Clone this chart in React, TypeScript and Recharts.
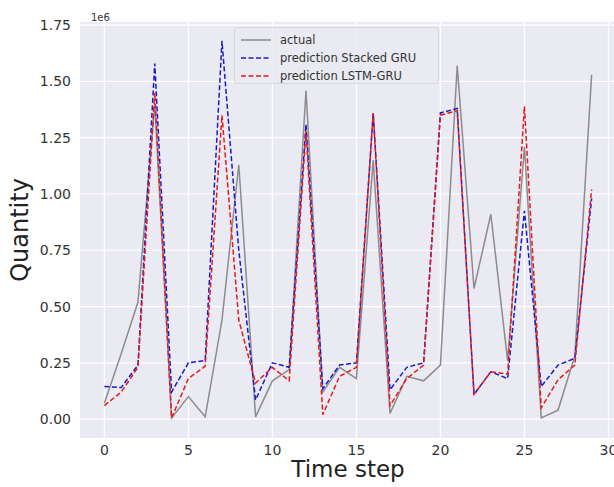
import { LineChart, Line, XAxis, YAxis, CartesianGrid, Legend, Label } from 'recharts';

// quantities in units of 1e6 (matches the axis offset label)
const steps = Array.from({ length: 30 }, (_, i) => i);
const actual = [0.07, 0.29, 0.52, 1.4, 0.005, 0.1, 0.01, 0.44, 1.13, 0.01, 0.17, 0.22, 1.46, 0.12, 0.23, 0.18, 1.15, 0.025, 0.19, 0.17, 0.24, 1.57, 0.58, 0.91, 0.26, 1.21, 0.005, 0.04, 0.28, 1.53];
const stackedGru = [0.145, 0.14, 0.24, 1.58, 0.12, 0.25, 0.26, 1.68, 0.75, 0.085, 0.25, 0.23, 1.31, 0.135, 0.24, 0.25, 1.36, 0.13, 0.23, 0.25, 1.36, 1.38, 0.11, 0.21, 0.18, 0.925, 0.145, 0.24, 0.27, 0.98];
const lstmGru = [0.06, 0.12, 0.23, 1.45, 0.005, 0.18, 0.235, 1.35, 0.44, 0.16, 0.23, 0.17, 1.28, 0.02, 0.19, 0.23, 1.36, 0.06, 0.18, 0.24, 1.35, 1.37, 0.11, 0.21, 0.2, 1.39, 0.05, 0.175, 0.24, 1.02];
const xTicks = [0, 5, 10, 15, 20, 25, 30];
const yTicks = [0, 0.25, 0.5, 0.75, 1.0, 1.25, 1.5, 1.75];

const series = [
  { key: 'actual', name: 'actual', color: '#8c8c8c', dash: undefined },
  { key: 'stacked', name: 'prediction Stacked GRU', color: '#1a1acc', dash: '5 2.5' },
  { key: 'lstm', name: 'prediction LSTM-GRU', color: '#e8191e', dash: '5 2.5' },
];

const data = steps.map((t, i) => ({ t, actual: actual[i], stacked: stackedGru[i], lstm: lstmGru[i] }));

const font = '"DejaVu Sans", sans-serif';

const LegendBox = () => (
  <div
    style={{
      position: 'absolute',
      left: 234,
      top: 27,
      width: 205,
      height: 57,
      background: 'rgba(234,234,242,0.85)',
      border: '1px solid #d6d6de',
      borderRadius: 4,
      boxSizing: 'border-box',
      padding: '3px 0 0 6px',
      fontFamily: font,
      fontSize: 11.5,
      color: '#333',
    }}
  >
    {series.map((s) => (
      <div key={s.key} style={{ display: 'flex', alignItems: 'center', height: 18 }}>
        <svg width={30} height={6} style={{ marginRight: 9 }}>
          <line x1={0} y1={3} x2={30} y2={3} stroke={s.color} strokeWidth={1.5} strokeDasharray={s.dash} />
        </svg>
        <span>{s.name}</span>
      </div>
    ))}
  </div>
);

export default function App() {
  return (
    <div style={{ position: 'absolute', left: 0, top: 0, width: 614, height: 487, overflow: 'hidden', background: '#fff' }}>
      <div style={{ position: 'absolute', left: 91, top: 12, fontFamily: font, fontSize: 10, color: '#333' }}>1e6</div>
      <LineChart width={624} height={487} data={data} margin={{ top: 22, right: 8, bottom: 23, left: 0 }}>
        <CartesianGrid fill="#eaeaf2" stroke="#ffffff" strokeWidth={1.2} horizontalValues={yTicks} verticalValues={xTicks} />
        <XAxis
          dataKey="t"
          type="number"
          domain={[-1.45, 30.45]}
          ticks={xTicks}
          height={26}
          axisLine={false}
          tickLine={false}
          tick={{ fontFamily: font, fontSize: 14, fill: '#333' }}
          tickMargin={1}
          interval={0}
          allowDataOverflow
        >
          <Label value="Time step" position="bottom" offset={-3} style={{ fontFamily: font, fontSize: 23, fill: '#222' }} />
        </XAxis>
        <YAxis
          type="number"
          domain={[-0.084, 1.764]}
          ticks={yTicks}
          width={80}
          axisLine={false}
          tickLine={false}
          tickFormatter={(v: number) => v.toFixed(2)}
          tick={{ fontFamily: font, fontSize: 14, fill: '#333' }}
          tickMargin={3}
          allowDataOverflow
        >
          <Label value="Quantity" angle={-90} position="insideLeft" offset={19} style={{ fontFamily: font, fontSize: 24, fill: '#222', textAnchor: 'middle' }} />
        </YAxis>
        <Legend content={() => <LegendBox />} wrapperStyle={{ position: 'absolute', left: 0, top: 0, width: 0, height: 0 }} />
        {series.map((s) => (
          <Line
            key={s.key}
            dataKey={s.key}
            name={s.name}
            stroke={s.color}
            strokeWidth={1.5}
            strokeDasharray={s.dash}
            dot={false}
            activeDot={false}
            isAnimationActive={false}
          />
        ))}
      </LineChart>
    </div>
  );
}
